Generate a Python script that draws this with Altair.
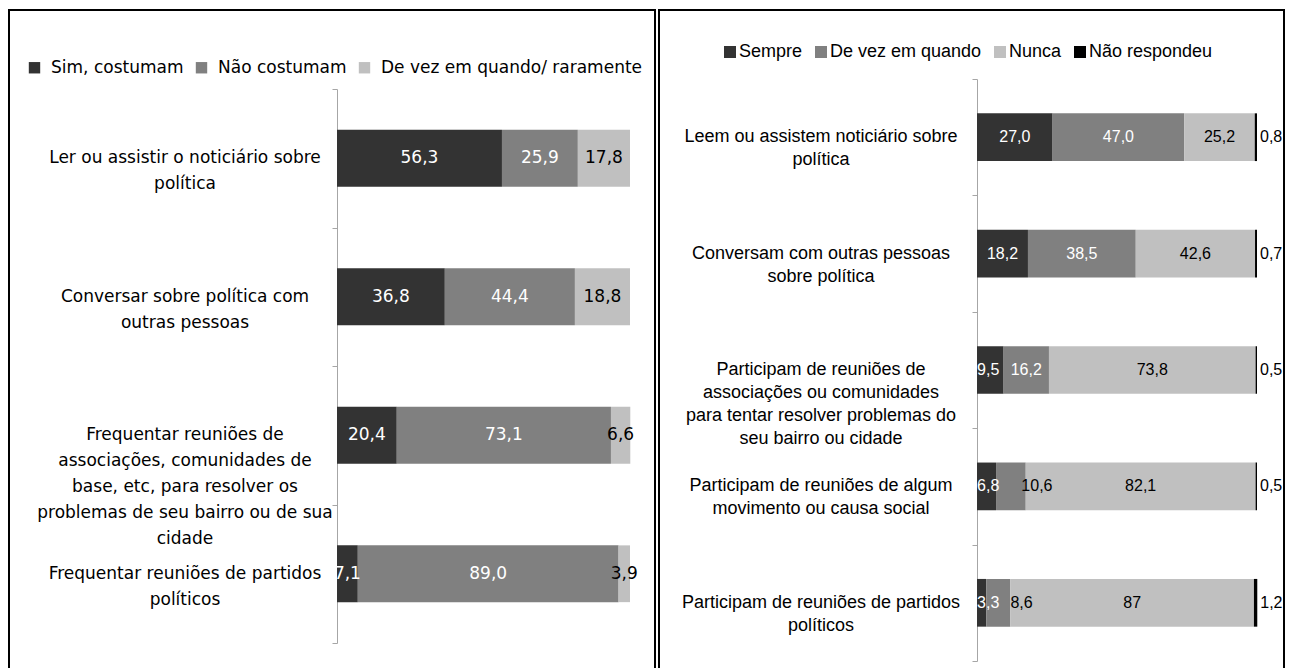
import altair as alt
import pandas as pd

# ---------------- data: left panel ----------------
L_CATS = [
    "Ler ou assistir o noticiário sobre\npolítica",
    "Conversar sobre política com\noutras pessoas",
    "Frequentar reuniões de\nassociações, comunidades de\nbase, etc, para resolver os\nproblemas de seu bairro ou de sua\ncidade",
    "Frequentar reuniões de partidos\npolíticos",
]
L_SERIES = ["Sim, costumam", "Não costumam", "De vez em quando/ raramente"]
L_SIM = [56.3, 36.8, 20.4, 7.1]
L_NAO = [25.9, 44.4, 73.1, 89.0]
L_DEVEZ = [17.8, 18.8, 6.6, 3.9]
L_COLORS = ["#333333", "#808080", "#c0c0c0"]

# ---------------- data: right panel ----------------
R_CATS = [
    "Leem ou assistem noticiário sobre\npolítica",
    "Conversam com outras pessoas\nsobre política",
    "Participam de reuniões de\nassociações ou comunidades\npara tentar resolver problemas do\nseu bairro ou cidade",
    "Participam de reuniões de algum\nmovimento ou causa social",
    "Participam de reuniões de partidos\npolíticos",
]
R_SERIES = ["Sempre", "De vez em quando", "Nunca", "Não respondeu"]
R_SEMPRE = [27.0, 18.2, 9.5, 6.8, 3.3]
R_DEVEZ = [47.0, 38.5, 16.2, 10.6, 8.6]
R_NUNCA = [25.2, 42.6, 73.8, 82.1, 87]
R_NR = [0.8, 0.7, 0.5, 0.5, 1.2]
R_COLORS = ["#333333", "#808080", "#c0c0c0", "#000000"]


def fmt(v):
    return f"{v:.1f}".replace(".", ",") if isinstance(v, float) else str(v)


def long_df(cats, series, cols):
    rows = []
    for si, (s, vals) in enumerate(zip(series, cols)):
        for c, v in zip(cats, vals):
            rows.append({"cat": c, "series": s, "ord": si, "value": float(v), "label": fmt(v)})
    return pd.DataFrame(rows)


def panel(cats, series, cols, colors, width, height, xrange, yrange, label_x,
          cat_font, cat_size, line_h, val_font, val_size, legend, n_white,
          outside_series=None, narrow_rule=False):
    df = long_df(cats, series, cols)
    if narrow_rule:
        # narrow segments: label pushed right of the segment start / end (as in the original)
        lx = ("(datum.x1 - datum.x0) < 12 && datum.ord < 2 ? "
              "(datum.ord == 0 ? datum.x0 + 4 : datum.x1 + 4) : datum.mid")
        wt = f"datum.ord < {n_white} && !((datum.x1 - datum.x0) < 12 && datum.ord == 1)"
    else:
        lx = "datum.mid"
        wt = f"datum.ord < {n_white}"
    base = alt.Chart(df).transform_stack(
        stack="value", groupby=["cat"], as_=["x0", "x1"],
        sort=[alt.SortField("ord", order="ascending")],
    ).transform_calculate(
        mid="(datum.x0 + datum.x1) / 2"
    ).transform_calculate(lx=lx, white=wt)

    xs = alt.Scale(domain=[0, 100], range=xrange)
    ys = alt.Scale(domain=cats, range=yrange, paddingInner=0, paddingOuter=0)
    y_enc = alt.Y(
        "cat:N", scale=ys, title=None,
        axis=alt.Axis(labels=False, title=None, offset=-xrange[0], tickBand="extent",
                      domainColor="#a6a6a6", tickColor="#a6a6a6", tickSize=5,
                      domainWidth=1, tickWidth=1, grid=False),
    )

    bars = base.mark_bar(height=alt.RelativeBandSize(0.41)).encode(
        x=alt.X("x0:Q", scale=xs, axis=None),
        x2="x1:Q",
        y=y_enc,
        color=alt.Color("series:N", scale=alt.Scale(domain=series, range=colors), legend=legend),
    )

    inside = [s for s in series if s != outside_series]
    vals = base.transform_filter(
        alt.FieldOneOfPredicate(field="series", oneOf=inside)
    ).mark_text(font=val_font, fontSize=val_size, align="center", baseline="middle").encode(
        x=alt.X("lx:Q", scale=xs, axis=None),
        y=y_enc,
        text="label:N",
        color=alt.condition("datum.white", alt.value("white"), alt.value("black")),
    )

    labels = alt.Chart(pd.DataFrame({"cat": cats})).mark_text(
        align="center", baseline="middle", lineBreak="\n", font=cat_font,
        fontSize=cat_size, lineHeight=line_h, color="black",
    ).encode(y=y_enc, x=alt.value(label_x), text="cat:N")

    layers = [bars, vals, labels]
    if outside_series:
        outside = base.transform_filter(
            alt.datum.series == outside_series
        ).mark_text(font=val_font, fontSize=val_size, align="left", baseline="middle",
                    dx=3, color="black").encode(
            x=alt.X("x1:Q", scale=xs, axis=None), y=y_enc, text="label:N")
        layers.append(outside)

    return alt.layer(*layers).properties(width=width, height=height)


LEFT_FONT = "DejaVu Sans"
RIGHT_FONT = "Liberation Sans, Arial, sans-serif"

left_legend = alt.Legend(
    orient="none", legendX=17, legendY=49, direction="horizontal", title=None,
    symbolType="square", symbolSize=130, symbolStrokeWidth=0, symbolOpacity=1,
    labelFont=LEFT_FONT, labelFontSize=17, labelColor="black", labelLimit=400,
    labelOffset=8, columnPadding=9, padding=0,
)
right_legend = alt.Legend(
    orient="none", legendX=62, legendY=33, direction="horizontal", title=None,
    symbolType="square", symbolSize=144, symbolStrokeWidth=0, symbolOpacity=1,
    labelFont=RIGHT_FONT, labelFontSize=18, labelColor="black", labelLimit=400,
    labelOffset=0, columnPadding=9, padding=0,
)

left = panel(L_CATS, L_SERIES, [L_SIM, L_NAO, L_DEVEZ], L_COLORS,
             646, 662, [328, 621], [79, 633], 176,
             LEFT_FONT, 17, 26, "DejaVu Sans", 17, left_legend, 2)

right = panel(R_CATS, R_SERIES, [R_SEMPRE, R_DEVEZ, R_NUNCA, R_NR], R_COLORS,
              625, 662, [318, 598], [69, 651], 162,
              RIGHT_FONT, 18, 23, RIGHT_FONT, 16, right_legend, 2,
              outside_series="Não respondeu", narrow_rule=True)

chart = alt.hconcat(left, right, spacing=4, bounds="flush").resolve_scale(
    x="independent", y="independent", color="independent"
).resolve_legend(color="independent").properties(
    padding={"left": 0, "top": 1, "right": 0, "bottom": 0}
).configure_view(stroke="black", strokeWidth=2)

chart.save("out.html", embed_options={"renderer": "svg", "actions": False})
